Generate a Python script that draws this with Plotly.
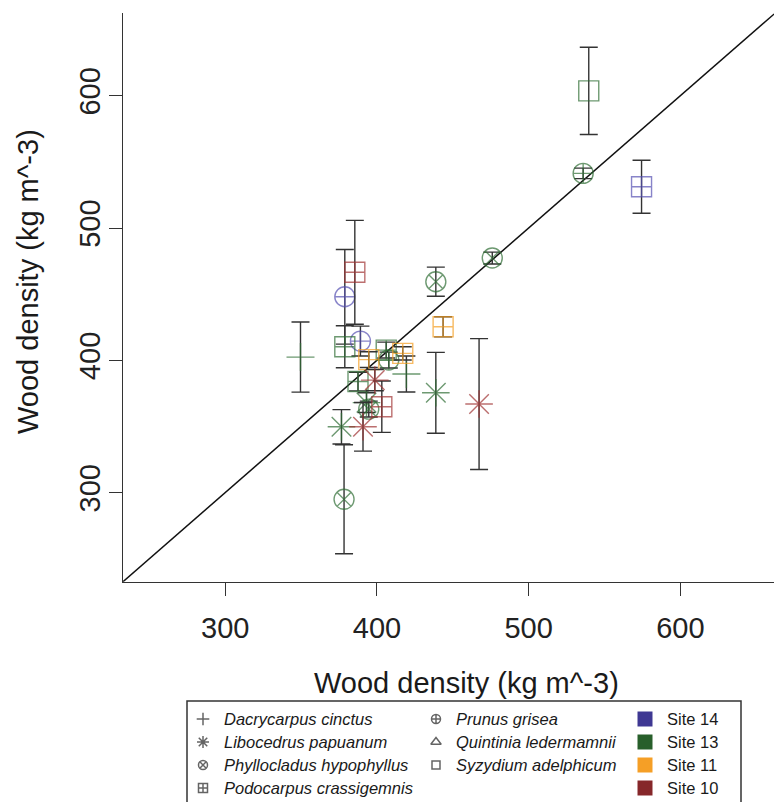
import plotly.graph_objects as go

# ---------------- data ----------------
species = [
    "Syzydium adelphicum", "Prunus grisea", "Podocarpus crassigemnis", "Phyllocladus hypophyllus",
    "Phyllocladus hypophyllus", "Podocarpus crassigemnis", "Libocedrus papuanum", "Libocedrus papuanum",
    "Dacrycarpus cinctus", "Dacrycarpus cinctus", "Podocarpus crassigemnis", "Prunus grisea",
    "Prunus grisea", "Podocarpus crassigemnis", "Podocarpus crassigemnis", "Podocarpus crassigemnis",
    "Podocarpus crassigemnis", "Prunus grisea", "Podocarpus crassigemnis", "Libocedrus papuanum",
    "Libocedrus papuanum", "Phyllocladus hypophyllus", "Podocarpus crassigemnis", "Libocedrus papuanum",
    "Libocedrus papuanum", "Phyllocladus hypophyllus",
]
site = [
    "Site 13", "Site 13", "Site 14", "Site 13",
    "Site 13", "Site 11", "Site 13", "Site 10",
    "Site 13", "Site 13", "Site 10", "Site 14",
    "Site 14", "Site 13", "Site 11", "Site 13",
    "Site 11", "Site 13", "Site 13", "Site 10",
    "Site 13", "Site 13", "Site 10", "Site 13",
    "Site 10", "Site 13",
]
x_val = [
    539.6, 535.9, 574.4, 476.0,
    438.8, 443.6, 438.8, 467.3,
    349.6, 419.4, 385.4, 378.8,
    389.1, 378.8, 394.6, 406.1,
    417.0, 407.8, 387.5, 398.6,
    393.1, 394.6, 403.2, 376.6,
    390.8, 378.3,
]
y_val = [
    603.7, 541.3, 531.2, 477.3,
    459.4, 425.3, 375.4, 366.9,
    402.4, 389.6, 466.5, 448.0,
    414.5, 410.2, 400.5, 407.7,
    405.2, 400.2, 383.9, 385.0,
    368.0, 363.1, 364.9, 349.7,
    349.7, 294.9,
]
y_err = [
    33.0, 4.0, 20.0, 4.5,
    11.0, 7.6, 30.6, 49.5,
    26.5, 13.6, 39.3, 35.8,
    11.3, 15.9, 6.0, 6.0,
    5.0, 6.0, 7.0, 8.0,
    7.5, 6.0, 19.4, 13.0,
    18.4, 41.2,
]

species_names = [
    "Dacrycarpus cinctus", "Libocedrus papuanum", "Phyllocladus hypophyllus",
    "Podocarpus crassigemnis", "Prunus grisea", "Quintinia ledermamnii", "Syzydium adelphicum",
]
site_names = ["Site 14", "Site 13", "Site 11", "Site 10"]
x_ticks = [300, 400, 500, 600]
y_ticks = [300, 400, 500, 600]
axis_min, x_max, y_max = 232.6, 661.7, 662.4
x_title = "Wood density (kg m^-3)"
y_title = "Wood density (kg m^-3)"

# ---------------- styles ----------------
W, H = 774, 802
FONT = "Liberation Sans, Arial, sans-serif"
AX = "#333333"
site_color = {"Site 14": "#5550b2", "Site 13": "#2f6e34", "Site 11": "#f39c1f", "Site 10": "#a03232"}
legend_color = {"Site 14": "#3f3893", "Site 13": "#285f2b", "Site 11": "#f59f26", "Site 10": "#86272a"}
sym = {
    "Dacrycarpus cinctus": "cross-thin-open",
    "Libocedrus papuanum": "asterisk-open",
    "Phyllocladus hypophyllus": "circle-x-open",
    "Podocarpus crassigemnis": "square-cross-open",
    "Prunus grisea": "circle-cross-open",
    "Quintinia ledermamnii": "triangle-up-open",
    "Syzydium adelphicum": "square-open",
}
msize = {
    "cross-thin-open": 20, "asterisk-open": 23, "circle-x-open": 20,
    "square-cross-open": 20, "circle-cross-open": 20, "triangle-up-open": 18, "square-open": 20,
}

fig = go.Figure()

# 1:1 reference line across the axis range
fig.add_trace(go.Scatter(x=[axis_min, y_max], y=[axis_min, y_max], mode="lines",
                         line=dict(color="#111111", width=1.5), showlegend=False, hoverinfo="skip"))

for s in site_names:
    idx = [i for i in range(len(site)) if site[i] == s]
    if not idx:
        continue
    syms = [sym[species[i]] for i in idx]
    fig.add_trace(go.Scatter(
        x=[x_val[i] for i in idx], y=[y_val[i] for i in idx], mode="markers",
        marker=dict(symbol=syms, size=[msize[k] for k in syms], color=site_color[s],
                    line=dict(color=site_color[s], width=1.4)),
        error_y=dict(type="data", array=[y_err[i] for i in idx], visible=True,
                     color=AX, thickness=1.4, width=9),
        showlegend=False, name=s,
    ))

# ---------------- custom legend (pixel overlay axes) ----------------
row_y = [719, 742, 765, 788]
col_sym_x = [203, 436]
col_txt_x = [222, 454]
site_sq_x, site_txt_x = 645, 665
leg_size = {"cross-thin-open": 9, "asterisk-open": 10, "circle-x-open": 9, "square-cross-open": 9,
            "circle-cross-open": 9, "triangle-up-open": 9, "square-open": 8}

lx, ly, lsym, lsz = [], [], [], []
annotations = []
for k, name in enumerate(species_names):
    c = 0 if k < 4 else 1
    r = k if k < 4 else k - 4
    lx.append(col_sym_x[c]); ly.append(row_y[r])
    lsym.append(sym[name]); lsz.append(leg_size[sym[name]])
    annotations.append(dict(x=col_txt_x[c], y=row_y[r], xref="x2", yref="y2", text="<i>%s</i>" % name,
                            showarrow=False, xanchor="left", yanchor="middle",
                            font=dict(family=FONT, size=16.5, color="#1a1a1a")))
fig.add_trace(go.Scatter(x=lx, y=ly, xaxis="x2", yaxis="y2", mode="markers",
                         marker=dict(symbol=lsym, size=lsz, color="#222222",
                                     line=dict(color="#222222", width=1.5)),
                         showlegend=False, hoverinfo="skip"))
fig.add_trace(go.Scatter(x=[site_sq_x] * len(site_names), y=row_y[:len(site_names)], xaxis="x2", yaxis="y2",
                         mode="markers",
                         marker=dict(symbol="square", size=15, color=[legend_color[s] for s in site_names],
                                     line=dict(width=0)),
                         showlegend=False, hoverinfo="skip"))
for r, s in enumerate(site_names):
    annotations.append(dict(x=site_txt_x, y=row_y[r], xref="x2", yref="y2", text=s,
                            showarrow=False, xanchor="left", yanchor="middle",
                            font=dict(family=FONT, size=16.5, color="#1a1a1a")))

# axis titles (placed as in the reference, which is offset from the cropped plot centre)
annotations.append(dict(x=466, y=683, xref="x2", yref="y2", text=x_title, showarrow=False,
                        xanchor="center", yanchor="middle",
                        font=dict(family=FONT, size=29, color="#1a1a1a")))
annotations.append(dict(x=28, y=282, xref="x2", yref="y2", text=y_title, showarrow=False,
                        textangle=-90, xanchor="center", yanchor="middle",
                        font=dict(family=FONT, size=29, color="#1a1a1a")))

shapes = [dict(type="rect", xref="x2", yref="y2", x0=187, x1=741, y0=701, y1=803,
               line=dict(color=AX, width=1.5), fillcolor="rgba(0,0,0,0)")]

x_lo_px, y_bot_px, y_top_px = 123, 581.7, 13.2
axis_common = dict(showline=True, linecolor=AX, linewidth=1.4, ticks="outside", ticklen=13,
                   tickwidth=1.4, tickcolor=AX, showgrid=False, zeroline=False,
                   tickfont=dict(family=FONT, size=29, color="#222222"))

fig.update_layout(
    width=W, height=H, margin=dict(l=0, r=0, t=0, b=0),
    paper_bgcolor="white", plot_bgcolor="rgba(0,0,0,0)",
    font=dict(family=FONT),
    xaxis=dict(domain=[x_lo_px / W, 1], range=[axis_min, x_max], tickvals=x_ticks, anchor="y",
               ticklabelstandoff=7, **axis_common),
    yaxis=dict(domain=[1 - y_bot_px / H, 1 - y_top_px / H], range=[axis_min, y_max], tickvals=y_ticks,
               anchor="x", tickangle=-90, ticklabelstandoff=-3, **axis_common),
    xaxis2=dict(domain=[0, 1], range=[0, W], visible=False, anchor="y2", fixedrange=True),
    yaxis2=dict(domain=[0, 1], range=[H, 0], visible=False, anchor="x2", fixedrange=True),
    annotations=annotations, shapes=shapes, showlegend=False,
)

fig.write_html("out.html")
